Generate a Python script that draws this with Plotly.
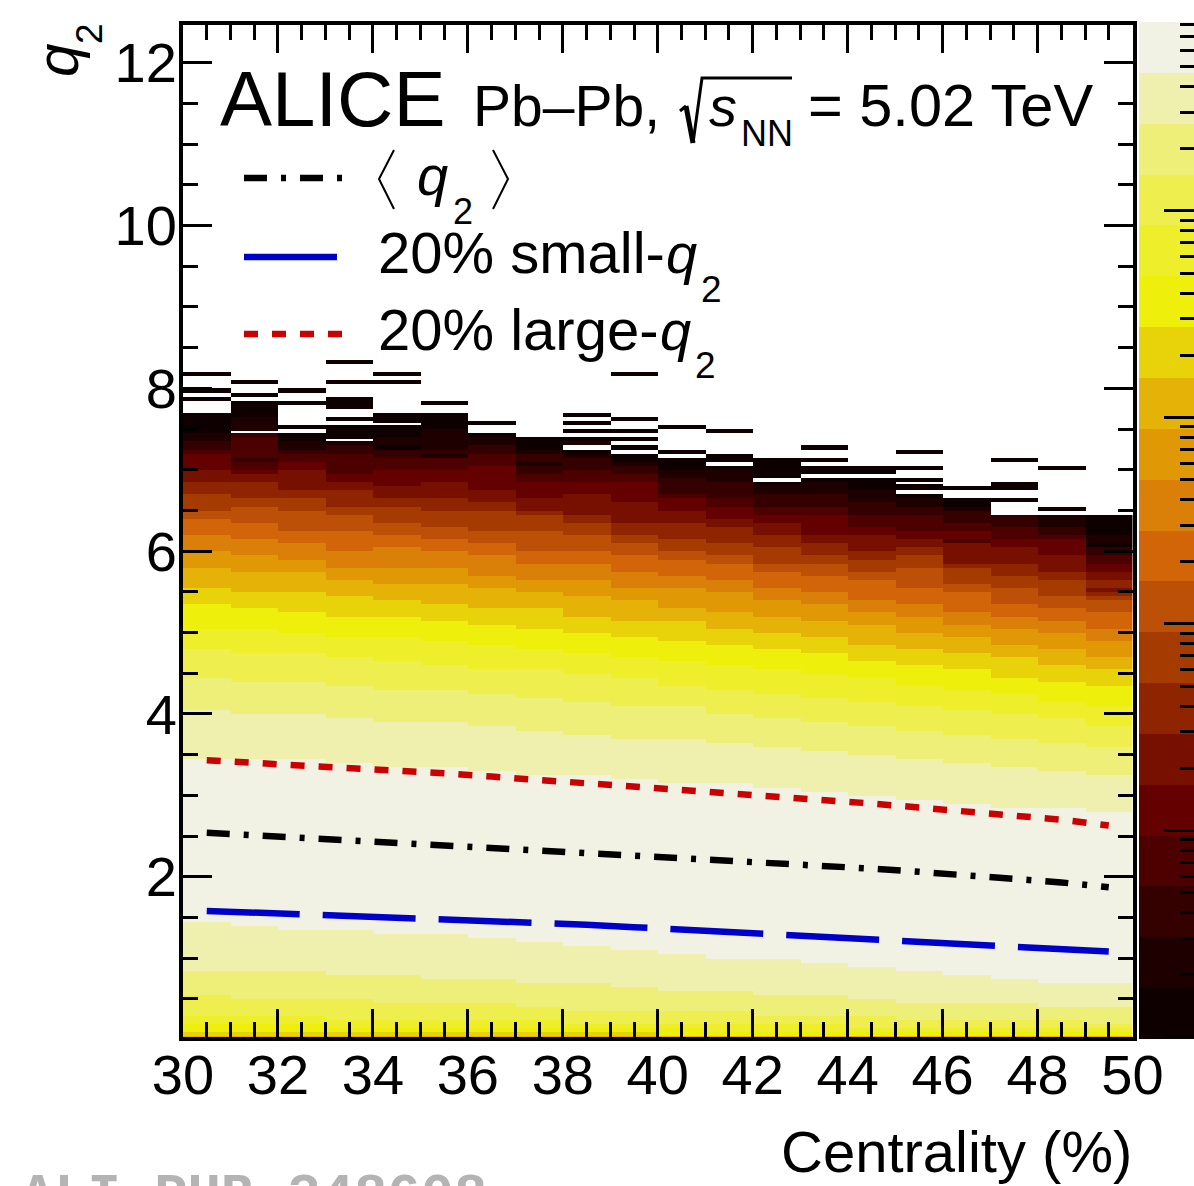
import numpy as np
import plotly.graph_objects as go

W, H = 1194, 1186

# ---------- data ----------
centrality_edges = list(range(30, 51))
line_centrality = [30.5 + i for i in range(20)]
q2_mean = [2.54, 2.51, 2.48, 2.45, 2.42, 2.39, 2.36, 2.33, 2.30, 2.27, 2.24, 2.20, 2.17, 2.13, 2.10, 2.06, 2.02, 1.98, 1.93, 1.87]
q2_small = [1.58, 1.56, 1.54, 1.53, 1.50, 1.48, 1.46, 1.43, 1.41, 1.38, 1.35, 1.32, 1.29, 1.27, 1.24, 1.21, 1.18, 1.15, 1.12, 1.08]
q2_large = [3.43, 3.40, 3.37, 3.34, 3.30, 3.27, 3.23, 3.19, 3.15, 3.11, 3.07, 3.03, 2.98, 2.94, 2.90, 2.85, 2.80, 2.76, 2.70, 2.63]

band_colors = ["#F2F2E4", "#F0F0AE", "#EDEF78", "#EEEF4E", "#EEEF2A", "#EEEF0A", "#E8D30A", "#E5B308", "#E09805", "#DA7F08",
               "#D26508", "#BC5006", "#A63B00", "#8E2500", "#781000", "#650000", "#4C0000", "#340000", "#1E0000", "#0E0000"]

# upper q2 edge of each colour band, one value per centrality column
top1 = [3.45, 3.45, 3.45, 3.40, 3.35, 3.35, 3.30, 3.25, 3.25, 3.20, 3.15, 3.15, 3.10, 3.05, 3.00, 2.95, 2.90, 2.85, 2.85, 2.80]
top2 = [4.05, 4.00, 4.00, 3.95, 3.90, 3.90, 3.85, 3.80, 3.75, 3.70, 3.70, 3.65, 3.60, 3.55, 3.50, 3.45, 3.40, 3.35, 3.30, 3.25]
top3 = [4.45, 4.40, 4.40, 4.35, 4.30, 4.30, 4.25, 4.20, 4.15, 4.10, 4.10, 4.00, 3.95, 3.90, 3.85, 3.80, 3.75, 3.70, 3.65, 3.60]
top4 = [4.80, 4.75, 4.75, 4.70, 4.65, 4.60, 4.55, 4.55, 4.50, 4.45, 4.35, 4.30, 4.25, 4.20, 4.15, 4.10, 4.05, 4.00, 3.95, 3.85]
top5 = [5.05, 5.05, 5.00, 4.95, 4.95, 4.90, 4.85, 4.80, 4.75, 4.70, 4.65, 4.60, 4.55, 4.50, 4.45, 4.35, 4.30, 4.25, 4.15, 4.10]
top6 = [5.35, 5.30, 5.25, 5.20, 5.20, 5.15, 5.10, 5.05, 5.00, 4.95, 4.90, 4.85, 4.80, 4.75, 4.65, 4.60, 4.55, 4.45, 4.40, 4.35]
top7 = [5.55, 5.50, 5.50, 5.45, 5.40, 5.35, 5.30, 5.30, 5.20, 5.15, 5.15, 5.05, 5.00, 4.95, 4.85, 4.80, 4.75, 4.70, 4.60, 4.55]
top8 = [5.80, 5.75, 5.75, 5.65, 5.60, 5.60, 5.55, 5.50, 5.45, 5.40, 5.30, 5.25, 5.20, 5.15, 5.10, 5.00, 4.95, 4.85, 4.80, 4.70]
top9 = [6.00, 5.95, 5.90, 5.80, 5.80, 5.80, 5.70, 5.65, 5.65, 5.55, 5.55, 5.50, 5.40, 5.35, 5.25, 5.20, 5.10, 5.05, 5.00, 4.90]
top10 = [6.20, 6.15, 6.10, 6.00, 6.05, 6.00, 5.95, 5.85, 5.85, 5.75, 5.70, 5.65, 5.55, 5.50, 5.40, 5.35, 5.25, 5.20, 5.15, 5.05]
top11 = [6.40, 6.35, 6.25, 6.25, 6.20, 6.15, 6.10, 6.00, 6.00, 5.95, 5.90, 5.85, 5.75, 5.70, 5.65, 5.55, 5.50, 5.35, 5.30, 5.25]
top12 = [6.50, 6.55, 6.50, 6.45, 6.35, 6.30, 6.25, 6.25, 6.20, 6.10, 6.00, 5.95, 5.85, 5.85, 5.75, 5.80, 5.60, 5.55, 5.45, 5.40]
top13 = [6.70, 6.65, 6.65, 6.55, 6.55, 6.50, 6.50, 6.45, 6.35, 6.20, 6.15, 6.10, 6.05, 5.95, 5.90, 5.95, 5.80, 5.70, 5.65, 5.45]
top14 = [6.85, 6.85, 6.75, 6.75, 6.65, 6.65, 6.60, 6.50, 6.45, 6.35, 6.35, 6.30, 6.20, 6.10, 6.00, 6.05, 5.90, 5.85, 5.75, 5.65]
top15 = [7.00, 6.95, 7.00, 6.85, 6.80, 6.85, 6.75, 6.65, 6.70, 6.60, 6.50, 6.40, 6.35, 6.20, 6.20, 6.15, 6.15, 6.05, 5.95, 5.75]
top16 = [7.20, 7.00, 7.10, 6.95, 7.00, 7.05, 7.05, 6.85, 6.85, 6.85, 6.65, 6.55, 6.45, 6.45, 6.30, 6.25, 6.25, 6.15, 6.15, 5.85]
top17 = [7.25, 7.40, 7.20, 7.20, 7.15, 7.15, 7.20, 6.95, 7.00, 6.95, 6.70, 6.65, 6.55, 6.55, 6.45, 6.45, 6.35, 6.30, 6.20, 5.95]
top18 = [7.35, 7.45, 7.25, 7.30, 7.25, 7.25, 7.30, 7.20, 7.15, 7.05, 6.90, 6.85, 6.70, 6.70, 6.60, 6.55, 6.50, 6.45, 6.30, 6.10]
top19 = [7.45, 7.65, 7.35, 7.35, 7.40, 7.50, 7.40, 7.25, 7.20, 7.10, 7.00, 7.00, 6.80, 6.85, 6.75, 6.65, 6.55, 6.45, 6.45, 6.25]
top20 = [7.70, 7.85, 7.45, 7.55, 7.70, 7.70, 7.45, 7.40, 7.25, 7.20, 7.15, 7.05, 6.85, 6.90, 6.90, 6.70, 6.65, 6.45, 6.45, 6.45]

# lower q2 edge of the bands on the low-q2 side
low1 = [1.45, 1.40, 1.35, 1.35, 1.30, 1.30, 1.25, 1.20, 1.15, 1.10, 1.05, 1.00, 1.00, 0.95, 0.90, 0.85, 0.80, 0.75, 0.70, 0.70]
low2 = [0.85, 0.85, 0.85, 0.80, 0.80, 0.75, 0.75, 0.70, 0.70, 0.65, 0.60, 0.60, 0.55, 0.55, 0.50, 0.45, 0.45, 0.45, 0.40, 0.40]
low3 = [0.55, 0.50, 0.50, 0.50, 0.45, 0.45, 0.45, 0.40, 0.35, 0.35, 0.35, 0.35, 0.30, 0.30, 0.30, 0.25, 0.25, 0.25, 0.25, 0.20]
low4 = [0.30, 0.30, 0.30, 0.25, 0.25, 0.25, 0.25, 0.25, 0.20, 0.20, 0.20, 0.20, 0.20, 0.20, 0.15, 0.15, 0.15, 0.15, 0.15, 0.15]
low5 = [0.20, 0.20, 0.20, 0.15, 0.15, 0.15, 0.15, 0.15, 0.15, 0.15, 0.15, 0.10, 0.10, 0.10, 0.10, 0.10, 0.10, 0.10, 0.10, 0.10]
low6 = [0.10, 0.10, 0.10, 0.10, 0.10, 0.10, 0.10, 0.10, 0.10, 0.10, 0.05, 0.05, 0.05, 0.05, 0.05, 0.05, 0.05, 0.05, 0.05, 0.05]
low7 = [0.06, 0.06, 0.06, 0.06, 0.06, 0.06, 0.05, 0.05, 0.05, 0.05, 0.05, 0.05, 0.04, 0.04, 0.04, 0.04, 0.04, 0.04, 0.04, 0.04]

# isolated dark rows above the solid part: column, q2 low, q2 high
stripe_col = [0, 0, 0, 1, 1, 2, 2, 2, 3, 3, 3, 3, 4, 4, 5, 6, 8, 8, 8, 8, 9, 9, 9, 9, 9, 10, 10, 11, 11, 12, 13, 13, 13, 14, 15, 15, 15, 15, 16, 17, 17, 17, 18, 18]
stripe_lo = [8.15, 7.95, 7.85, 8.05, 7.90, 7.95, 7.80, 7.50, 8.30, 8.05, 7.75, 7.60, 8.15, 8.05, 7.80, 7.55, 7.65, 7.55, 7.45, 7.35, 8.15, 7.60, 7.45, 7.35, 7.25, 7.50, 7.20, 7.45, 7.10, 6.90, 7.25, 7.10, 6.95, 6.95, 7.20, 7.00, 6.85, 6.75, 6.75, 7.10, 6.75, 6.60, 7.00, 6.50]
stripe_hi = [8.20, 8.00, 7.90, 8.10, 7.95, 8.00, 7.85, 7.55, 8.35, 8.10, 7.90, 7.65, 8.20, 8.10, 7.85, 7.60, 7.70, 7.60, 7.50, 7.40, 8.20, 7.65, 7.50, 7.40, 7.30, 7.55, 7.25, 7.50, 7.20, 7.15, 7.30, 7.15, 7.05, 7.05, 7.25, 7.05, 6.90, 6.83, 6.80, 7.15, 6.85, 6.65, 7.05, 6.55]

# thin white gaps in the solid part: column, q2
gap_col = [1, 3, 4, 11, 12, 13, 14, 15, 10]
gap_q2 = [7.475, 7.375, 7.575, 7.075, 6.875, 6.925, 6.925, 6.725, 7.175]

# rows that break the band order: column, q2, band number
noise_col = [0, 0, 1, 1, 3, 4, 4, 5, 5, 7, 8, 16, 16, 19, 19, 19, 19, 19]
noise_q2 = [7.60, 7.30, 7.10, 6.95, 7.15, 7.45, 7.25, 7.15, 7.00, 7.05, 7.30, 6.10, 5.85, 6.30, 6.20, 6.10, 6.05, 5.50]
noise_band = [20, 18, 18, 16, 17, 20, 20, 19, 17, 19, 19, 17, 15, 20, 20, 19, 20, 15]

y_tick_values = [2, 4, 6, 8, 10, 12]
x_tick_values = [30, 32, 34, 36, 38, 40, 42, 44, 46, 48, 50]
scale_decades = [0, 1, 2, 3, 4]
scale_minor_multipliers = [2, 3, 4, 5, 6, 7, 8, 9]
scale_log_min, scale_log_max = -0.01, 4.915

# ---------- build the histogram ----------
BIN = 0.025
y_edges = np.arange(0, 12.5 + BIN / 2, BIN)
y_centres = (y_edges[:-1] + y_edges[1:]) / 2
tops = [top1, top2, top3, top4, top5, top6, top7, top8, top9, top10, top11, top12, top13, top14, top15, top16, top17, top18, top19, top20]
lows = [low1, low2, low3, low4, low5, low6, low7]

z = np.full((len(y_centres), 20), np.nan)
for c in range(20):
    for r, y in enumerate(y_centres):
        if y < low1[c]:
            band = 8
            for k, low in enumerate(lows):
                if y >= low[c]:
                    band = k + 1
                    break
        else:
            band = None
            for k, top in enumerate(tops):
                if y < top[c]:
                    band = k + 1
                    break
        if band is not None:
            z[r, c] = 21 - band
for c, lo, hi in zip(stripe_col, stripe_lo, stripe_hi):
    z[(y_centres >= lo) & (y_centres < hi), c] = 1
for c, q, b in zip(noise_col, noise_q2, noise_band):
    z[(y_centres >= q) & (y_centres < q + 0.05), c] = 21 - b
for c, q in zip(gap_col, gap_q2):
    z[(y_centres >= q - 0.0125) & (y_centres < q + 0.0125), c] = np.nan

colorscale = []
for i, col in enumerate(band_colors[::-1]):
    colorscale += [[i / 20, col], [(i + 1) / 20, col]]

# ---------- pixel helpers (layout only) ----------
def px(x):
    return x / W

def py(y):
    return 1 - y / H

PX_Y0, PX_PER_Y = 1039.5, 81.4
L, R, T, B = 183.0, 1132.5, 25.0, 1037.0

fig = go.Figure()
fig.add_trace(go.Heatmap(z=z, x=centrality_edges, y=y_edges, colorscale=colorscale, zmin=0.5, zmax=20.5,
                         showscale=False, hoverongaps=False, xaxis="x", yaxis="y"))
LW = 6.5
fig.add_trace(go.Scatter(x=line_centrality, y=q2_large, mode="lines", line=dict(color="#CC0000", width=LW, dash="14px,14px"), showlegend=False))
fig.add_trace(go.Scatter(x=line_centrality, y=q2_mean, mode="lines", line=dict(color="#000000", width=LW, dash="23px,14px,5px,14px"), showlegend=False))
fig.add_trace(go.Scatter(x=line_centrality, y=q2_small, mode="lines", line=dict(color="#0000CC", width=LW, dash="93px,23px"), showlegend=False))

# colour scale panel
scale_edges = np.linspace(scale_log_min, scale_log_max, 21)
fig.add_trace(go.Heatmap(z=[[i + 1] for i in range(20)], x=[0, 1], y=scale_edges, colorscale=colorscale, zmin=0.5, zmax=20.5,
                         showscale=False, xaxis="x2", yaxis="y2"))

axis_common = dict(showgrid=False, zeroline=False, ticks="inside", tickcolor="black", tickwidth=3,
                   showline=True, linecolor="black", linewidth=4, mirror="ticks",
                   tickfont=dict(family="Liberation Sans", size=56, color="black"))
fig.update_layout(
    width=W, height=H, autosize=False, margin=dict(l=0, r=0, t=0, b=0, pad=0, autoexpand=False),
    paper_bgcolor="white", plot_bgcolor="white", showlegend=False, font=dict(family="Liberation Sans", color="black"),
    xaxis=dict(domain=[px(L), px(R)], range=[30, 50],
               tickvals=x_tick_values, ticklen=28, ticklabelstandoff=-14,
               minor=dict(dtick=0.5, ticks="inside", ticklen=15, tickwidth=3, tickcolor="black"), **axis_common),
    yaxis=dict(domain=[py(B), py(T)], range=[(PX_Y0 - B) / PX_PER_Y, (PX_Y0 - T) / PX_PER_Y],
               tickvals=y_tick_values, ticklen=29, ticklabelstandoff=-9,
               minor=dict(dtick=0.5, ticks="inside", ticklen=15, tickwidth=3, tickcolor="black"), **axis_common),
    xaxis2=dict(domain=[px(1139), 1.0], range=[0, 1], showticklabels=False, showgrid=False, zeroline=False, ticks="", anchor="y2"),
    yaxis2=dict(domain=[py(1039), py(22)], range=[scale_log_min, scale_log_max], anchor="x2", side="right",
                tickvals=scale_decades, ticks="inside", ticklen=30, tickwidth=3, tickcolor="black", showticklabels=False,
                showgrid=False, zeroline=False,
                minor=dict(tickvals=[float(np.log10(m) + d) for d in scale_decades for m in scale_minor_multipliers if np.log10(m) + d < scale_log_max],
                           ticks="inside", ticklen=14, tickwidth=3, tickcolor="black")),
)

def text(s, x, base, size, anchor="left", color="black", family="Liberation Sans"):
    # base: baseline in pixels
    fig.add_annotation(text=s, x=px(x), y=py(base + 0.212 * size + 1), xref="paper", yref="paper",
                       xanchor=anchor, yanchor="bottom", showarrow=False, borderpad=0,
                       font=dict(family=family, size=size, color=color))

def seg(path, width=3, color="black"):
    fig.add_shape(type="path", path=path, xref="paper", yref="paper", line=dict(color=color, width=width), layer="above")

def P(x, y):
    return f"{px(x)},{py(y)}"

text("ALICE", 219, 126, 78)
text("Pb\u2013Pb,", 472, 126, 57)
seg(f"M{P(680, 111)} L{P(686, 106)}", 3)
seg(f"M{P(686, 106)} L{P(693, 143)}", 5)
seg(f"M{P(693, 143)} L{P(702, 78)} L{P(792, 78)}", 3)
text("<i>s</i>", 708, 126, 56)
text("NN", 740, 146, 36)
text("= 5.02 TeV", 807, 126, 59.5)

# legend
for y0, x1, col, d in [(178, 342, "#000000", "23px,14px,5px,14px"), (257, 337, "#0000CC", "solid"), (334, 342, "#CC0000", "14px,14px")]:
    fig.add_shape(type="line", x0=px(244), x1=px(x1), y0=py(y0), y1=py(y0), xref="paper", yref="paper",
                  line=dict(color=col, width=6.5, dash=d), layer="above")
seg(f"M{P(394, 150)} L{P(379, 179)} L{P(394, 209)}", 2)
seg(f"M{P(493, 150)} L{P(508, 179)} L{P(493, 209)}", 2)
text("<i>q</i>", 416, 195, 56)
text("2", 452, 224, 36)
text("20% small-", 377, 273, 58)
text("<i>q</i>", 665, 273, 56)
text("2", 700, 302, 37)
text("20% large-", 377, 350, 58)
text("<i>q</i>", 659, 350, 56)
text("2", 694, 378, 37)

# axis titles
text("Centrality (%)", 1133, 1172, 58, anchor="right")
fig.add_annotation(text="<i>q</i>", x=px(58), y=py(61), xref="paper", yref="paper", showarrow=False, textangle=-90,
                   xanchor="center", yanchor="middle", font=dict(family="Liberation Sans", size=60, color="black"))
fig.add_annotation(text="2", x=px(89), y=py(34), xref="paper", yref="paper", showarrow=False, textangle=-90,
                   xanchor="center", yanchor="middle", font=dict(family="Liberation Sans", size=37, color="black"))

# preliminary stamp
fig.add_annotation(text="<b>ALI\u2212PUB\u2212348608</b>", x=px(20), y=py(1165), xref="paper", yref="paper", showarrow=False,
                   xanchor="left", yanchor="top", borderpad=0,
                   font=dict(family="Liberation Mono", size=55.5, color="#B4B4B4"))

fig.write_html("out.html", config={"displayModeBar": False},
               post_script="document.body.style.margin='0';document.body.style.overflow='hidden';")
